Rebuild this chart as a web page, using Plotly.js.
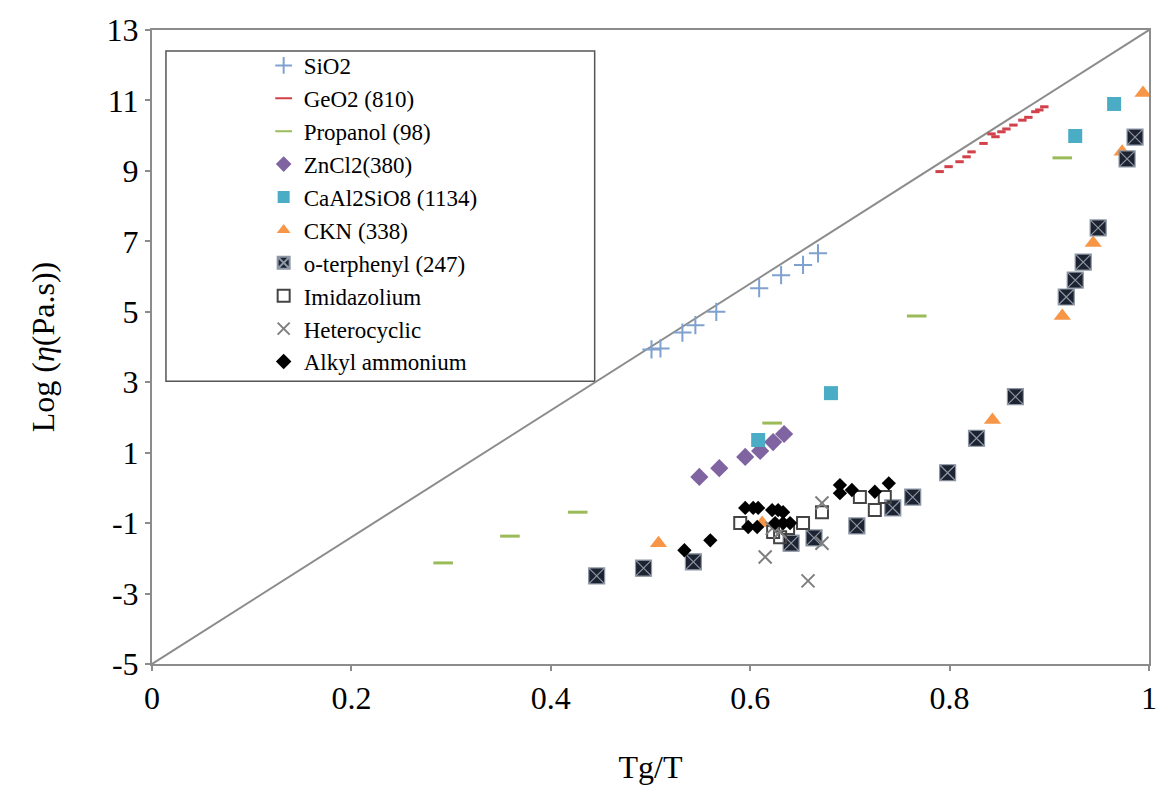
<!DOCTYPE html>
<html>
<head>
<meta charset="utf-8">
<script src="https://cdn.plot.ly/plotly-3.0.1.min.js"></script>
<style>html,body{margin:0;padding:0;background:#fff}#chart{width:1161px;height:789px}
.legendtext{font-family:"Liberation Serif",serif !important}</style>
</head>
<body>
<div id="chart"></div>
<script>
// Diagonal reference line
const diagX = [0, 1];
const diagY = [-5, 13];

const seriesNames = ['SiO2', 'GeO2 (810)', 'Propanol (98)', 'ZnCl2(380)', 'CaAl2SiO8 (1134)', 'CKN (338)',
  'o-terphenyl (247)', 'Imidazolium', 'Heterocyclic', 'Alkyl ammonium'];

const sio2X = [0.501, 0.510, 0.532, 0.545, 0.566, 0.609, 0.631, 0.653, 0.668];
const sio2Y = [3.93, 3.96, 4.41, 4.62, 5.00, 5.67, 6.04, 6.33, 6.66];

const geo2X = [0.790, 0.799, 0.810, 0.817, 0.822, 0.834, 0.842, 0.846, 0.852, 0.857, 0.864, 0.873, 0.879, 0.886, 0.890, 0.895];
const geo2Y = [8.98, 9.12, 9.26, 9.40, 9.54, 9.78, 10.05, 9.97, 10.11, 10.19, 10.30, 10.44, 10.52, 10.68, 10.73, 10.82];

const propX = [0.292, 0.359, 0.427, 0.622, 0.767, 0.913];
const propY = [-2.13, -1.37, -0.69, 1.84, 4.88, 9.37];

const zncl2X = [0.549, 0.569, 0.595, 0.610, 0.623, 0.634];
const zncl2Y = [0.31, 0.56, 0.88, 1.05, 1.30, 1.53];

const caalX = [0.608, 0.681, 0.926, 0.965];
const caalY = [1.36, 2.69, 9.99, 10.90];

const cknX = [0.508, 0.612, 0.843, 0.913, 0.944, 0.973, 0.994];
const cknY = [-1.57, -1.00, 1.93, 4.88, 6.95, 9.54, 11.21];

const otpX = [0.446, 0.493, 0.543, 0.641, 0.664, 0.707, 0.743, 0.763, 0.798, 0.827, 0.866, 0.917, 0.926, 0.934, 0.949, 0.978, 0.986];
const otpY = [-2.50, -2.28, -2.10, -1.57, -1.42, -1.08, -0.57, -0.26, 0.43, 1.41, 2.59, 5.42, 5.90, 6.41, 7.38, 9.34, 9.96];

const imidX = [0.590, 0.623, 0.630, 0.638, 0.653, 0.672, 0.710, 0.725, 0.735];
const imidY = [-1.00, -1.25, -1.40, -1.14, -1.00, -0.69, -0.26, -0.63, -0.26];

const hetX = [0.615, 0.622, 0.630, 0.658, 0.672, 0.672];
const hetY = [-1.96, -1.15, -1.25, -2.64, -0.43, -1.57];

const alkX = [0.534, 0.560, 0.595, 0.603, 0.608, 0.622, 0.628, 0.633, 0.598, 0.607, 0.625, 0.633, 0.640, 0.690, 0.690, 0.702, 0.725, 0.739];
const alkY = [-1.77, -1.49, -0.57, -0.57, -0.57, -0.63, -0.63, -0.69, -1.11, -1.11, -1.00, -1.00, -1.00, 0.08, -0.15, -0.06, -0.11, 0.13];

const yTickVals = [-5, -3, -1, 1, 3, 5, 7, 9, 11, 13];
const yTickText = ['-5', '-3', '-1', '1', '3', '5', '7', '9', '11', '13'];
const xTickVals = [0, 0.2, 0.4, 0.6, 0.8, 1];
const xTickText = ['0', '0.2', '0.4', '0.6', '0.8', '1'];

const serif = 'Liberation Serif';
const nm = i => '<span style="font-family:Liberation Serif">' + seriesNames[i] + '</span>';

const traces = [
  {x: diagX, y: diagY, mode: 'lines', line: {color: '#8c8c8c', width: 2}, showlegend: false, hoverinfo: 'skip'},
  {x: sio2X, y: sio2Y, mode: 'markers', name: nm(0),
   marker: {symbol: 'cross-thin-open', size: 13, color: '#7fa1cf', line: {color: '#7fa1cf', width: 2}}},
  {x: geo2X, y: geo2Y, mode: 'markers', name: nm(1),
   marker: {symbol: 'line-ew-open', size: 6, color: '#d2404a', line: {color: '#d2404a', width: 3}}},
  {x: propX, y: propY, mode: 'markers', name: nm(2),
   marker: {symbol: 'line-ew-open', size: 14, color: '#9bbb59', line: {color: '#9bbb59', width: 3}}},
  {x: zncl2X, y: zncl2Y, mode: 'markers', name: nm(3),
   marker: {symbol: 'diamond', size: 14, color: '#8064a2'}},
  {x: caalX, y: caalY, mode: 'markers', name: nm(4),
   marker: {symbol: 'square', size: 14, color: '#4bacc6'}},
  {x: cknX, y: cknY, mode: 'markers', name: nm(5),
   marker: {symbol: 'triangle-up', size: 15, color: '#f79646'}},
  {x: otpX, y: otpY, mode: 'markers', name: nm(6),
   marker: {symbol: 'square-x', size: 16, color: '#1d2331', line: {color: '#8d97a5', width: 1.2}}},
  {x: imidX, y: imidY, mode: 'markers', name: nm(7),
   marker: {symbol: 'square-open', size: 12, color: '#444444', line: {color: '#444444', width: 2}}},
  {x: hetX, y: hetY, mode: 'markers', name: nm(8),
   marker: {symbol: 'x-thin-open', size: 13, color: '#7f7f7f', line: {color: '#7f7f7f', width: 2}}},
  {x: alkX, y: alkY, mode: 'markers', name: nm(9),
   marker: {symbol: 'diamond', size: 11, color: '#000000'}}
];

const axisCommon = {
  showgrid: false, zeroline: false, showline: true, linecolor: '#8c8c8c', linewidth: 2,
  mirror: true, ticks: 'outside', ticklen: 5, tickcolor: '#8c8c8c', tickwidth: 1.5,
  tickfont: {family: serif, size: 32, color: '#000'}
};

const layout = {
  width: 1161, height: 789,
  margin: {l: 152, r: 12, t: 30, b: 125},
  paper_bgcolor: '#fff', plot_bgcolor: '#fff',
  font: {family: serif, color: '#000'},
  xaxis: Object.assign({}, axisCommon, {
    range: [0, 1], tickvals: xTickVals, ticktext: xTickText,
    title: {text: 'Tg/T', font: {family: serif, size: 32, color: '#000'}, standoff: 40}
  }),
  yaxis: Object.assign({}, axisCommon, {
    range: [-5, 13], tickvals: yTickVals, ticktext: yTickText,
    title: {text: 'Log (<i>η</i>(Pa.s))', font: {family: serif, size: 32, color: '#000'}, standoff: 42}
  }),
  shapes: [
    {type: 'rect', xref: 'paper', yref: 'paper', x0: 0.014, x1: 0.444, y0: 0.446, y1: 0.967,
     line: {color: '#555555', width: 1.5}, fillcolor: '#ffffff', layer: 'below'}
  ],
  legend: {
    x: 0.112, y: 0.978, xanchor: 'left', yanchor: 'top',
    bgcolor: 'rgba(0,0,0,0)', borderwidth: 0,
    font: {family: serif, size: 23, color: '#000'},
    itemsizing: 'constant', tracegroupgap: 0
  },
  showlegend: true
};

Plotly.newPlot('chart', traces, layout, {displayModeBar: false});
</script>
</body>
</html>
